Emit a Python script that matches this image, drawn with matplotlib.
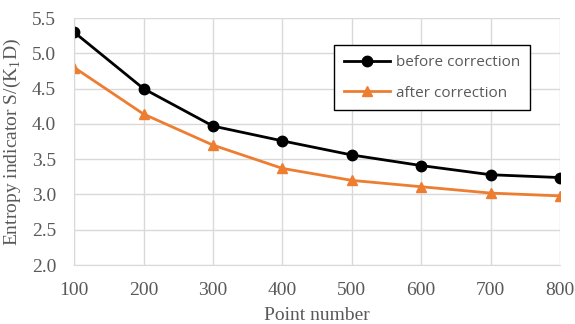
import matplotlib
matplotlib.use('Agg')
import matplotlib.pyplot as plt

# data
points = [100, 200, 300, 400, 500, 600, 700, 800]
before = [5.30, 4.50, 3.97, 3.76, 3.56, 3.41, 3.28, 3.24]
after = [4.80, 4.14, 3.70, 3.37, 3.20, 3.11, 3.02, 2.98]

plt.rcParams['font.family'] = 'Liberation Serif'

fig = plt.figure(figsize=(5.75, 3.24), dpi=100)
ax = fig.add_axes([0.129, 0.182, 0.845, 0.762])

ax.plot(points, before, color='black', lw=2, marker='o', ms=7.5, label='before correction')
ax.plot(points, after, color='#ed7d31', lw=2, marker='^', ms=7.5, label='after correction')

ax.set_xlim(100, 800)
ax.set_ylim(2.0, 5.5)
ax.set_xticks(points)
ax.set_yticks([2.0, 2.5, 3.0, 3.5, 4.0, 4.5, 5.0, 5.5])
ax.yaxis.set_major_formatter(matplotlib.ticker.FormatStrFormatter('%.1f'))
ax.grid(True, color='#d9d9d9', lw=1)
ax.set_axisbelow(True)
for s in ['top', 'right']:
    ax.spines[s].set_visible(False)
for s in ['left', 'bottom']:
    ax.spines[s].set_color('#d9d9d9')
ax.tick_params(length=0, labelsize=14, colors='#595959')
ax.tick_params(axis='x', pad=12)
ax.tick_params(axis='y', pad=13)
ax.set_xlabel('Point number', fontsize=14, color='#595959', labelpad=6)
ax.set_ylabel('Entropy indicator S/(K$_\\mathregular{1}$D)', fontsize=14, color='#595959', labelpad=6)

leg = ax.legend(loc='upper left', bbox_to_anchor=(0.535, 0.89), fancybox=False,
                edgecolor='black', framealpha=1, prop={'family': 'Open Sans', 'size': 11},
                handlelength=3.0, handletextpad=0.4, labelspacing=1.0, borderpad=0.65,
                borderaxespad=0)
leg.get_frame().set_linewidth(1)
for t in leg.get_texts():
    t.set_color('#595959')

fig.savefig('out.png', dpi=100)
